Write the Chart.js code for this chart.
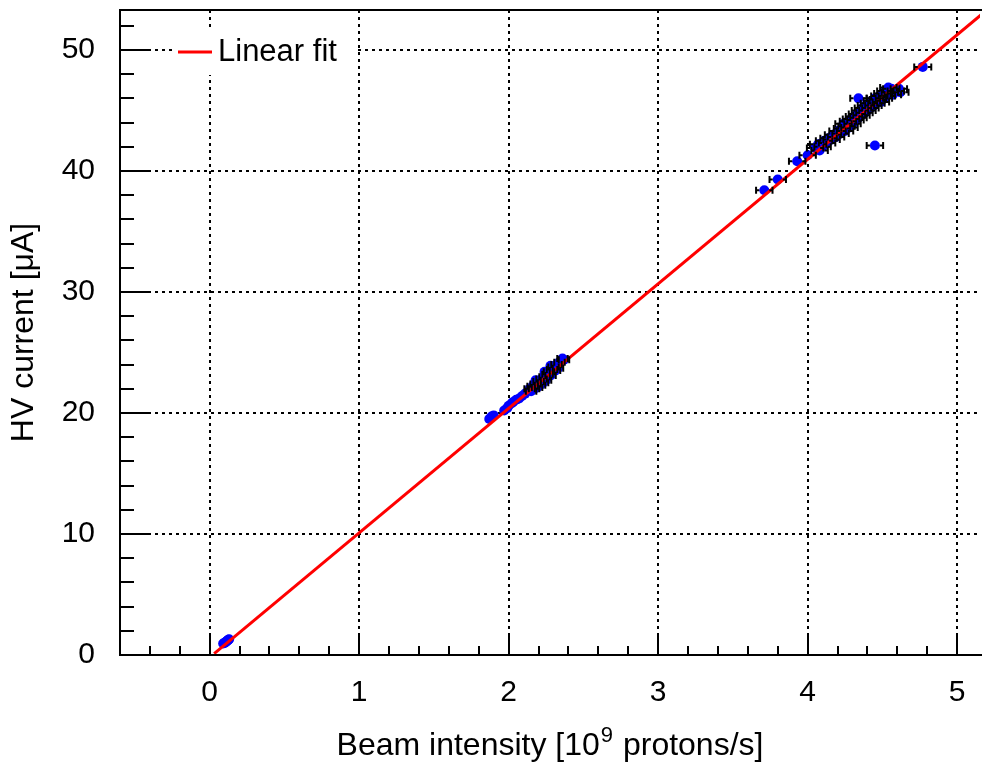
<!DOCTYPE html>
<html>
<head>
<meta charset="utf-8">
<script src="https://cdn.jsdelivr.net/npm/chart.js@4.4.0/dist/chart.umd.min.js"></script>
<style>
  html, body { margin: 0; padding: 0; background: #fff; }
  canvas { display: block; }
</style>
</head>
<body>
<canvas id="chart" width="985" height="762"></canvas>
<script>
  // ----- DATA -----
  // beam intensity [1e9 p/s], HV current [uA], horizontal error on intensity
  const beamX = [
    // low intensity
    0.09, 0.10, 0.105, 0.11, 0.115, 0.12, 0.125, 0.13,
    // ~2e9, small errors
    1.87, 1.885, 1.90, 1.97, 1.99, 2.00, 2.02, 2.03, 2.05, 2.07, 2.09, 2.11, 2.18, 2.24, 2.28,
    // ~2e9, visible errors
    2.14, 2.15, 2.16, 2.17, 2.18, 2.19, 2.20, 2.21, 2.22, 2.23, 2.24, 2.25, 2.26, 2.27, 2.28,
    2.29, 2.30, 2.31, 2.32, 2.33, 2.34, 2.36, 2.37,
    // ~4e9
    3.71, 3.80, 3.93, 4.00, 4.08, 4.45, 4.34, 4.77, 4.54,
    4.05, 4.07, 4.10, 4.11, 4.13, 4.14, 4.16, 4.17, 4.19, 4.20, 4.22, 4.23, 4.24, 4.25, 4.26,
    4.27, 4.28, 4.29, 4.30, 4.31, 4.32, 4.33, 4.34, 4.35, 4.36, 4.37, 4.38, 4.39, 4.40, 4.41,
    4.42, 4.43, 4.44, 4.45, 4.46, 4.47, 4.48, 4.49, 4.50, 4.51, 4.52, 4.53, 4.55, 4.56, 4.57,
    4.59, 4.61, 4.62
  ];
  const hvY = [
    0.95, 1.0, 1.05, 1.1, 1.15, 1.2, 1.25, 1.3,
    19.5, 19.7, 19.8, 20.2, 20.4, 20.6, 20.8, 20.9, 21.1, 21.2, 21.4, 21.6, 22.7, 23.4, 23.9,
    22.0, 21.8, 22.2, 22.0, 22.4, 22.1, 22.6, 22.3, 22.8, 22.5, 23.0, 22.7, 23.2, 23.4, 23.1,
    23.6, 23.8, 23.5, 24.0, 23.7, 24.2, 24.5, 24.4,
    38.4, 39.3, 40.8, 41.3, 41.7, 42.1, 46.0, 48.6, 46.9,
    41.9, 42.2, 42.0, 42.5, 42.3, 42.7, 42.6, 43.0, 42.8, 43.3, 43.1, 43.5, 43.9, 43.3, 43.7,
    44.1, 43.6, 44.3, 43.9, 44.5, 44.2, 44.7, 44.4, 45.0, 44.6, 45.2, 44.8, 45.4, 45.0, 45.6,
    45.2, 45.8, 45.4, 46.0, 45.6, 45.9, 46.2, 45.7, 46.4, 46.0, 46.6, 46.2, 46.5, 46.8, 46.3,
    46.6, 46.8, 46.5
  ];
  const beamErr = [
    0, 0, 0, 0, 0, 0, 0, 0,
    0, 0, 0, 0, 0, 0, 0, 0, 0, 0, 0, 0, 0, 0, 0,
    0.035, 0.035, 0.035, 0.035, 0.035, 0.035, 0.035, 0.035, 0.035, 0.035, 0.035, 0.035, 0.035, 0.035, 0.035,
    0.035, 0.035, 0.035, 0.035, 0.035, 0.035, 0.035, 0.035,
    0.055, 0.055, 0.055, 0.055, 0.055, 0.055, 0.055, 0.057, 0.055,
    0.055, 0.055, 0.055, 0.055, 0.055, 0.055, 0.055, 0.055, 0.055, 0.055, 0.055, 0.055, 0.055, 0.055, 0.055,
    0.055, 0.055, 0.055, 0.055, 0.055, 0.055, 0.055, 0.055, 0.055, 0.055, 0.055, 0.055, 0.055, 0.055, 0.055,
    0.055, 0.055, 0.055, 0.055, 0.055, 0.055, 0.055, 0.055, 0.055, 0.055, 0.055, 0.055, 0.055, 0.055, 0.055,
    0.055, 0.055, 0.055
  ];

  // linear fit end points
  const fitX = [0.03, 5.3];
  const fitY = [0.11, 54.34];

  const xTickValues = [0, 1, 2, 3, 4, 5];
  const yTickValues = [0, 10, 20, 30, 40, 50];

  const FONT = "'Liberation Sans', Arial, sans-serif";
  const MARKER_R = 5;

  // ----- ROOT-like frame, inner ticks, error bars, legend, x title -----
  const rootStyle = {
    id: 'rootStyle',
    afterDatasetsDraw(chart) {
      const { ctx, chartArea: a, scales: { x, y } } = chart;
      const r = MARKER_R;
      ctx.save();
      ctx.beginPath();
      ctx.rect(a.left, a.top, a.right - a.left, a.bottom - a.top);
      ctx.clip();
      ctx.strokeStyle = '#000';
      ctx.lineWidth = 2;
      beamX.forEach((v, i) => {
        const e = beamErr[i];
        if (!e) return;
        const px = x.getPixelForValue(v);
        const py = y.getPixelForValue(hvY[i]);
        const lo = x.getPixelForValue(v - e);
        const hi = x.getPixelForValue(v + e);
        ctx.beginPath();
        if (px - r > lo) { ctx.moveTo(lo, py); ctx.lineTo(px - r, py); }
        if (px + r < hi) { ctx.moveTo(px + r, py); ctx.lineTo(hi, py); }
        ctx.moveTo(lo, py - 3.5); ctx.lineTo(lo, py + 3.5);
        ctx.moveTo(hi, py - 3.5); ctx.lineTo(hi, py + 3.5);
        ctx.stroke();
      });
      ctx.restore();
    },
    afterDraw(chart) {
      const { ctx, chartArea: a, scales: { x, y } } = chart;
      ctx.save();
      ctx.strokeStyle = '#000';
      ctx.lineWidth = 2;
      ctx.setLineDash([]);

      // frame (right side falls outside the picture)
      ctx.beginPath();
      ctx.moveTo(a.right + 2, a.top);
      ctx.lineTo(a.left, a.top);
      ctx.lineTo(a.left, a.bottom);
      ctx.lineTo(a.right + 2, a.bottom);
      ctx.stroke();

      // x ticks inside the frame
      ctx.beginPath();
      for (let k = -3; k <= 26; k++) {
        const v = k * 0.2;
        if (v < x.min - 1e-6 || v > x.max) continue;
        const px = Math.round(x.getPixelForValue(v));
        const len = (k % 5 === 0) ? 20 : 9;
        ctx.moveTo(px, a.bottom);
        ctx.lineTo(px, a.bottom - len);
      }
      // y ticks inside the frame
      for (let k = 1; k <= 26; k++) {
        const v = k * 2;
        if (v > y.max) continue;
        const py = Math.round(y.getPixelForValue(v));
        const len = (k % 5 === 0) ? 30 : 14;
        ctx.moveTo(a.left, py);
        ctx.lineTo(a.left + len, py);
      }
      ctx.stroke();

      // legend
      const lx = a.left + 52, ly = a.top + 17;
      ctx.fillStyle = '#fff';
      ctx.fillRect(lx, ly, 184, 48);
      ctx.strokeStyle = '#ff0000';
      ctx.lineWidth = 3;
      ctx.beginPath();
      ctx.moveTo(lx + 6, ly + 25);
      ctx.lineTo(lx + 40, ly + 25);
      ctx.stroke();
      ctx.fillStyle = '#000';
      ctx.font = '31px ' + FONT;
      ctx.textAlign = 'left';
      ctx.textBaseline = 'middle';
      ctx.fillText('Linear fit', lx + 46, ly + 25);

      // x axis title with a real superscript
      const big = '32px ' + FONT, small = '22px ' + FONT;
      const p1 = 'Beam intensity [10', p2 = '9', p3 = ' protons/s]';
      ctx.font = big; const w1 = ctx.measureText(p1).width, w3 = ctx.measureText(p3).width;
      ctx.font = small; const w2 = ctx.measureText(p2).width + 2;
      let tx = (a.left + a.right) / 2 - (w1 + w2 + w3) / 2;
      const base = 755;
      ctx.textBaseline = 'alphabetic';
      ctx.font = big; ctx.fillText(p1, tx, base); tx += w1;
      ctx.font = small; ctx.fillText(p2, tx + 1, base - 13); tx += w2;
      ctx.font = big; ctx.fillText(p3, tx, base);
      ctx.restore();
    }
  };

  const ctx = document.getElementById('chart').getContext('2d');
  new Chart(ctx, {
    type: 'scatter',
    data: {
      datasets: [
        {
          type: 'line',
          label: 'Linear fit',
          data: fitX.map((v, i) => ({ x: v, y: fitY[i] })),
          borderColor: '#ff0000',
          borderWidth: 3,
          pointRadius: 0,
          fill: false,
          tension: 0
        },
        {
          label: 'Data',
          data: beamX.map((v, i) => ({ x: v, y: hvY[i] })),
          backgroundColor: '#0000ff',
          borderWidth: 0,
          pointRadius: MARKER_R
        }
      ]
    },
    options: {
      responsive: false,
      animation: false,
      layout: { padding: { top: 10, right: 0, bottom: 0, left: 0 } },
      plugins: { legend: { display: false }, tooltip: { enabled: false } },
      scales: {
        x: {
          type: 'linear',
          min: -0.6,
          max: 5.153,
          afterBuildTicks: s => { s.ticks = xTickValues.map(v => ({ value: v })); },
          afterFit: s => { s.height = 107; s.paddingLeft = 0; s.paddingRight = 0; },
          grid: { color: '#000', lineWidth: 2, drawTicks: false },
          border: { display: false, dash: [3, 4] },
          ticks: { padding: 20, color: '#000', font: { family: FONT, size: 30 }, maxRotation: 0, autoSkip: false },
          title: { display: false }
        },
        y: {
          type: 'linear',
          min: 0,
          max: 53.3,
          afterBuildTicks: s => { s.ticks = yTickValues.map(v => ({ value: v })); },
          afterFit: s => { s.width = 120; s.paddingTop = 0; s.paddingBottom = 0; },
          grid: { color: '#000', lineWidth: 2, drawTicks: false },
          border: { display: false, dash: [3, 4] },
          ticks: { padding: 25, color: '#000', font: { family: FONT, size: 30 }, autoSkip: false },
          title: { display: true, text: 'HV current [μA]', color: '#000',
                   font: { family: FONT, size: 32 }, padding: { top: 5, bottom: 0 } }
        }
      }
    },
    plugins: [rootStyle]
  });
</script>
</body>
</html>
